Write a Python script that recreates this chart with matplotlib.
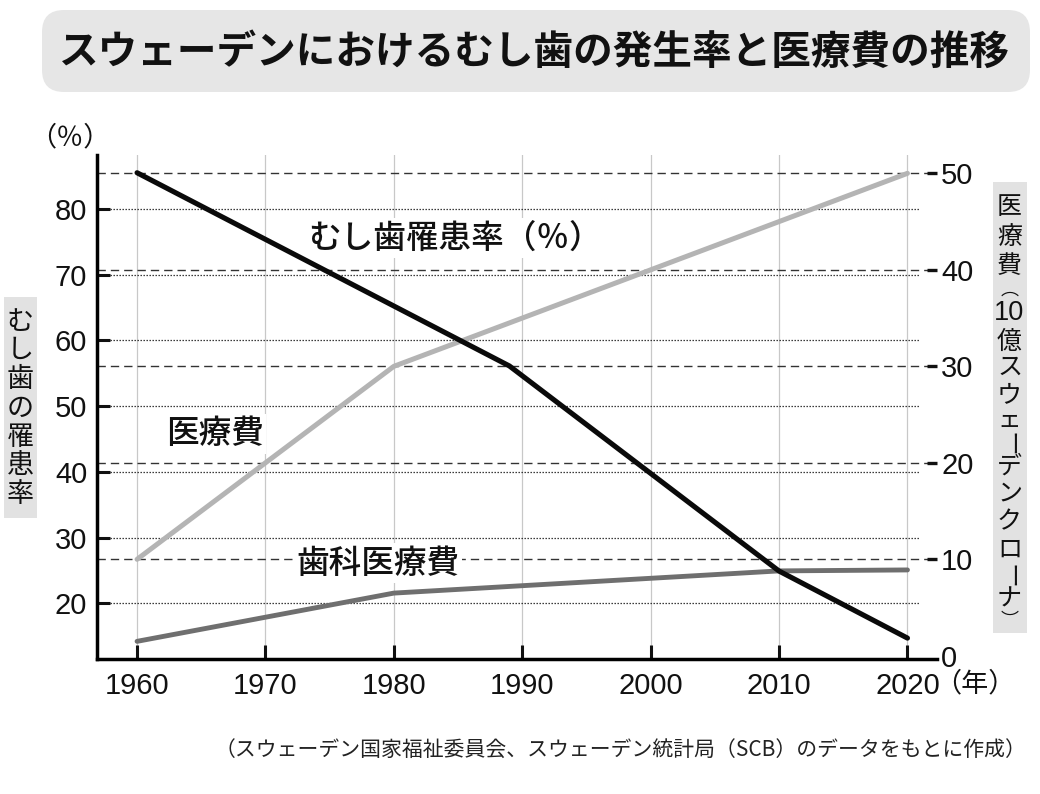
import matplotlib
matplotlib.use("Agg")
import matplotlib.pyplot as plt
from matplotlib.patches import FancyBboxPatch, Rectangle
from matplotlib.transforms import blended_transform_factory

plt.rcParams['font.family'] = ['Noto Sans CJK JP', 'DejaVu Sans']

# ---------------- data ----------------
years_caries = [1960, 1989, 2010, 2020]
caries_rate = [85.5, 56.1, 24.9, 14.7]          # left axis (%)
years_medical = [1960, 1980, 2020]
medical_cost = [10, 30, 50]                       # right axis (10億クローナ)
years_dental = [1960, 1980, 2010, 2020]
dental_cost = [1.5, 6.5, 8.8, 8.9]                # right axis
x_ticks = [1960, 1970, 1980, 1990, 2000, 2010, 2020]
left_ticks = [20, 30, 40, 50, 60, 70, 80]
right_ticks = [0, 10, 20, 30, 40, 50]

title = "スウェーデンにおけるむし歯の発生率と医療費の推移"
left_label = "むし歯の罹患率"
# vertical writing of 医療費（10億スウェーデンクローナ）
right_label_cells = ["医", "療", "費", "︵", "10", "億", "ス", "ウ", "ェ", "ー",
                     "デ", "ン", "ク", "ロ", "ー", "ナ", "︶"]
label_caries = "むし歯罹患率（％）"
label_medical = "医療費"
label_dental = "歯科医療費"
source = "（スウェーデン国家福祉委員会、スウェーデン統計局（SCB）のデータをもとに作成）"

# ---------------- layout ----------------
W, H = 1040, 794
fig = plt.figure(figsize=(W / 100, H / 100), dpi=100)


def fx(x):
    return x / W


def fy(y):
    return 1 - y / H


NUMFONT = 'Liberation Sans'
INK = '#111111'

ax = fig.add_axes([fx(97), fy(659), 840 / W, 504 / H])
ax2 = ax.twinx()
ax.set_zorder(2)
ax2.set_zorder(1)
ax.patch.set_visible(False)

ax.set_xlim(1956.88, 2022.3)
ax.set_ylim(11.52, 88.2)
ax2.set_ylim(-0.33, 51.9)

# spines
for s in ['top', 'right']:
    ax.spines[s].set_visible(False)
for s in ax2.spines.values():
    s.set_visible(False)
ax.spines['left'].set_linewidth(2.5)
ax.spines['bottom'].set_linewidth(2.5)

# ticks
ax.set_xticks(x_ticks)
ax.set_yticks(left_ticks)
ax2.set_yticks(right_ticks)
ax.tick_params(axis='x', direction='in', length=10, width=2.2, pad=9,
               labelsize=21, labelfontfamily=NUMFONT, colors=INK)
ax.tick_params(axis='y', direction='in', length=9.4, width=2.2, pad=7,
               labelsize=21, labelfontfamily=NUMFONT, colors=INK)
ax2.tick_params(axis='y', direction='in', length=7.2, width=2.4, pad=3,
                labelsize=21, labelfontfamily=NUMFONT, colors=INK)
ax2.yaxis.get_major_ticks()[0].tick2line.set_visible(False)

# grid (drawn in lower axes)
for xv in x_ticks:
    ax2.axvline(xv, color='#c8c8c8', lw=0.9, zorder=1)
for v in right_ticks[1:]:
    ax2.axhline(v, color='#333333', lw=1.0, ls=(0, (6, 3.6)), zorder=1.2)
blend = blended_transform_factory(ax2.transAxes, ax.transData)
for v in left_ticks:
    ax2.plot([0.0155, 0.98], [v, v], transform=blend, color='#222222',
             lw=0.9, ls=(0, (1.1, 1.3)), zorder=1.1)

# data lines
ax2.plot(years_medical, medical_cost, color='#b4b4b4', lw=3.6,
         solid_capstyle='round', solid_joinstyle='round', zorder=3)
ax2.plot(years_dental, dental_cost, color='#6f6f6f', lw=3.5,
         solid_capstyle='round', solid_joinstyle='round', zorder=3.1)
ax.plot(years_caries, caries_rate, color='#0a0a0a', lw=3.7,
        solid_capstyle='round', solid_joinstyle='round', zorder=4)

# in-plot labels (white backgrounds cover grid lines)
bb = dict(boxstyle='square,pad=0.08', fc='white', ec='none')
ax2.text(fx(308), fy(238), label_caries, transform=fig.transFigure,
         fontsize=23.5, fontweight='medium', ha='left', va='center',
         color=INK, bbox=bb, zorder=2.5)
ax2.text(fx(166), fy(434), label_medical, transform=fig.transFigure,
         fontsize=23.5, fontweight='medium', ha='left', va='center',
         color=INK, bbox=bb, zorder=2.5)
ax2.text(fx(296), fy(563), label_dental, transform=fig.transFigure,
         fontsize=23.5, fontweight='medium', ha='left', va='center',
         color=INK, bbox=bb, zorder=2.5)

# title box
fig.add_artist(FancyBboxPatch((0.42, 7.02), 9.88, 0.82,
                              boxstyle='round,pad=0,rounding_size=0.22',
                              transform=fig.dpi_scale_trans,
                              fc='#e6e6e6', ec='none', zorder=0))
fig.text(fx(534), fy(52), title, fontsize=28.5, fontweight='bold',
         ha='center', va='center', color=INK)

# unit labels
fig.text(fx(70), fy(138), "（％）", fontsize=19.5, ha='center', va='center',
         color=INK)
fig.text(fx(934), fy(684), "（年）", fontsize=19.5, ha='left', va='center',
         color=INK)

# left vertical label
fig.add_artist(Rectangle((0.04, 2.76), 0.33, 2.21, transform=fig.dpi_scale_trans,
                         fc='#e2e2e2', ec='none', zorder=0))
for i, ch in enumerate(left_label):
    fig.text(fx(20.5), fy(322 + i * 28.8), ch, fontsize=19.5, ha='center',
             va='center', color=INK)

# right vertical label
fig.add_artist(Rectangle((9.93, 1.61), 0.34, 4.51, transform=fig.dpi_scale_trans,
                         fc='#e2e2e2', ec='none', zorder=0))
right_y = [207, 237, 266, 290, 313, 342, 368, 395, 420, 444, 467, 494, 522, 550,
           576, 600, 621]
for ch, yy in zip(right_label_cells, right_y):
    kw = dict(fontsize=18, ha='center', va='center', color=INK)
    if ch == "ー":
        kw['rotation'] = -90
    if ch == "ェ":
        kw['fontsize'] = 17
    if ch == "10":
        kw['family'] = [NUMFONT]
        kw['fontsize'] = 19.5
    if ch in ("︵", "︶"):
        kw['fontsize'] = 13
    fig.text(fx(1009.5), fy(yy), ch, **kw)

# source
fig.text(fx(1026), fy(750), source, fontsize=15, ha='right', va='center',
         color='#222222')

fig.savefig('out.png', dpi=100)
